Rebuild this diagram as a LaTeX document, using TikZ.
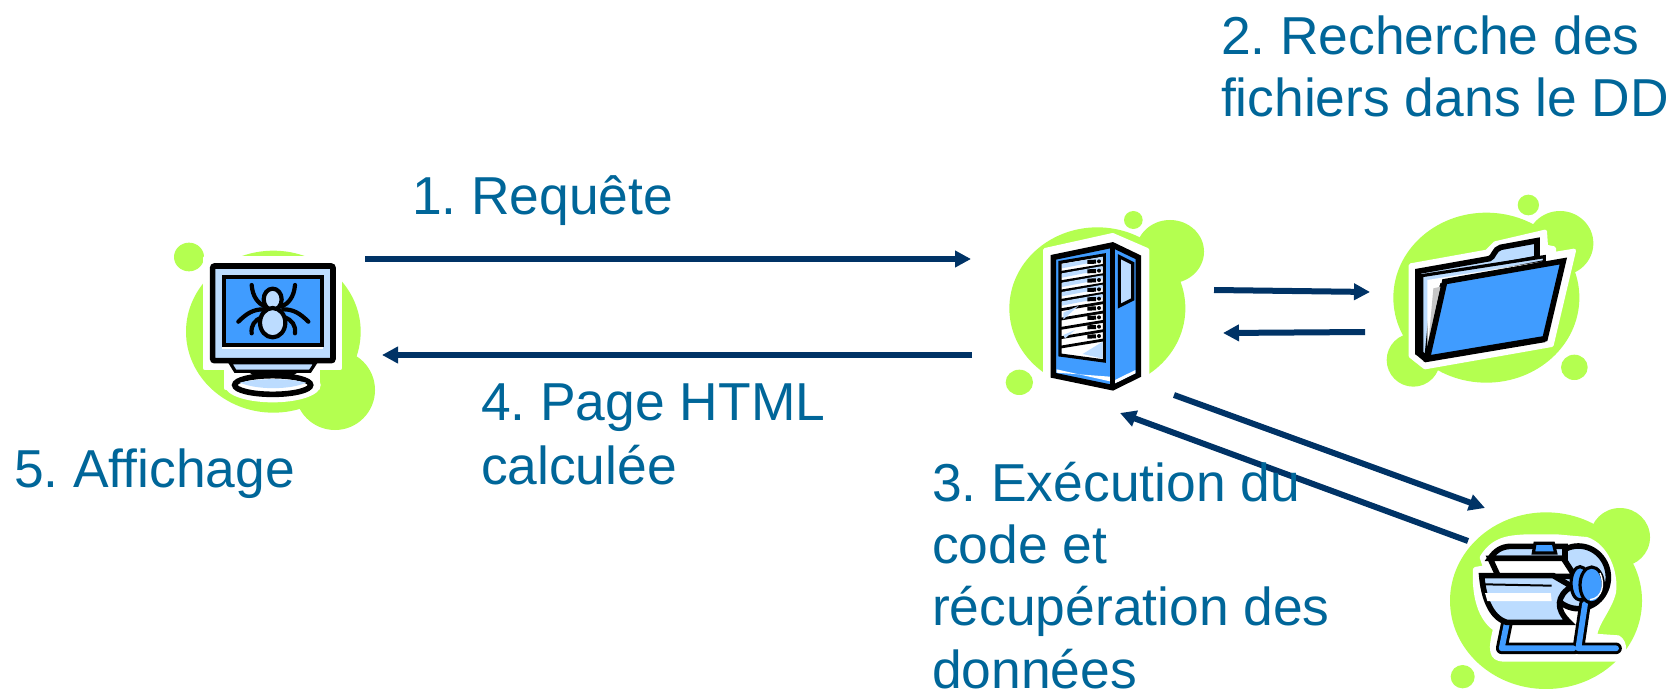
\documentclass[tikz,border=0pt]{standalone}
\usepackage{fontspec}
\setmainfont{Liberation Sans}
\usetikzlibrary{arrows.meta}
\definecolor{blobgreen}{HTML}{B4FF50}
\definecolor{iconblue}{HTML}{409CFF}
\definecolor{iconlight}{HTML}{BCDCFF}
\definecolor{navy}{HTML}{003366}
\definecolor{txtblue}{HTML}{006699}
\tikzset{
  blob/.style={fill=blobgreen,draw=none},
  halo/.style={fill=white,draw=white,line width=2pt,line join=round},
  ink/.style={draw=black,line width=2.8pt,line join=miter},
  thinink/.style={draw=black,line width=1.6pt,line join=miter},
  zoomed/.style={x=0.16667pt,y=-0.16667pt},
  link/.style={draw=navy,line width=3pt,-{Triangle[length=8pt,width=8pt]}},
  label/.style={anchor=base west,inner sep=0pt,outer sep=0pt,text=txtblue,font=\fontsize{26.7}{30}\selectfont,align=left}
}
\begin{document}
\frenchspacing
\begin{tikzpicture}[x=0.5pt,y=-0.5pt]
\useasboundingbox (0,0) rectangle (1673,689);
\fill[white] (0,0) rectangle (1673,689);

% ---------- client ----------
\begin{scope}[shift={(140,210)},zoomed]
\fill[blob] (147,141) ellipse [x radius=45,y radius=43];
\fill[blob] (400,365) ellipse [x radius=262,y radius=243];
\fill[blob] (585,540) circle [radius=120];
\path[halo] (195,145) rectangle (600,475);
\path[halo] (258,470) rectangle (535,535);
\path[halo] (398,525) ellipse [x radius=138,y radius=46];
\path[fill=iconlight,thinink] (270,458) -- (286,484) -- (510,484) -- (527,458) -- cycle;
\path[fill=iconlight,thinink] (340,490) .. controls (370,515) and (430,515) .. (460,490) -- cycle;
\path[fill=white,ink] (398,525) ellipse [x radius=114,y radius=28];
\path[fill=iconlight] (300,518) .. controls (350,504) and (450,504) .. (498,518) .. controls (450,540) and (350,540) .. (300,518);
\path[fill=iconlight,ink,rounded corners=1pt] (218,168) rectangle (579,452);
\path[fill=iconblue,thinink,line width=2pt] (252,202) rectangle (545,405);
\fill[white] (246,411) -- (550,411) -- (550,417) -- (246,417) -- cycle;
\begin{scope}[draw=black,line width=2.1pt,line cap=round]
\draw (335,225) .. controls (338,262) and (355,280) .. (375,290);
\draw (465,225) .. controls (462,262) and (445,280) .. (425,290);
\draw (295,335) .. controls (320,310) and (340,298) .. (370,298);
\draw (505,335) .. controls (480,310) and (460,298) .. (430,298);
\draw (335,370) .. controls (332,345) and (345,330) .. (365,322);
\draw (465,370) .. controls (468,345) and (455,330) .. (435,322);
\end{scope}
\path[fill=iconlight,draw=black,line width=2.1pt] (398,268) ellipse [x radius=27,y radius=32];
\path[fill=iconlight,draw=black,line width=2.1pt] (398,338) ellipse [x radius=38,y radius=44];
\end{scope}

% ---------- server ----------
\begin{scope}[shift={(1000,200)},zoomed]
\fill[blob] (292,325) ellipse [x radius=264,y radius=243];
\fill[blob] (510,155) ellipse [x radius=102,y radius=95];
\fill[blob] (400,60) ellipse [x radius=28,y radius=27];
\fill[blob] (58,547) ellipse [x radius=41,y radius=38];
\path[halo] (135,150) -- (338,105) -- (442,150) -- (442,530) -- (338,590) -- (135,545) -- cycle;
\path[fill=iconblue,ink] (160,172) -- (338,135) -- (415,172) -- (415,525) -- (338,563) -- (160,526) -- cycle;
\fill[white] (170,508) -- (330,544) -- (330,530) -- (170,518) -- cycle;
\fill[white] (345,550) -- (406,520) -- (406,510) -- (345,540) -- cycle;
\draw[black,line width=2.8pt] (338,135) -- (338,563);
\path[fill=white,thinink] (180,187) -- (313,165) -- (313,483) -- (180,465) -- cycle;
\fill[iconlight] (248,462) -- (308,425) -- (308,476) -- cycle;
\foreach \i in {0,...,8}{
  \pgfmathsetmacro\yl{192+28*\i}
  \pgfmathsetmacro\yr{170+28*\i}
  \ifnum\i<5
    \fill[iconlight] (186,\yl) -- (308,\yr) -- (308,\yr+11) -- (186,\yl+13) -- cycle;
  \fi
  \draw[black,line width=1.4pt] (183,\yl+25) -- (310,\yr+26);
  \draw[black,line width=2pt] (262,\yr+16) -- (288,\yr+15);
  \fill[black] (297,\yr+14) circle [radius=6];
}
\fill[iconlight] (190,338) -- (235,318) -- (190,358) -- cycle;
\fill[iconlight] (190,405) -- (225,390) -- (195,415) -- cycle;
\path[fill=iconlight,thinink] (358,170) -- (398,190) -- (398,298) -- (358,318) -- cycle;
\end{scope}

% ---------- folder ----------
\begin{scope}[shift={(1370,180)},zoomed]
\fill[blob] (349,353) ellipse [x radius=279,y radius=255];
\fill[blob] (570,190) ellipse [x radius=100,y radius=97];
\fill[blob] (475,75) ellipse [x radius=32,y radius=31];
\fill[blob] (613,562) ellipse [x radius=40,y radius=38];
\fill[blob] (130,540) ellipse [x radius=80,y radius=80];
\path[halo] (122,256) -- (350,215) -- (375,190) -- (525,155) -- (528,200) -- (552,205) -- (552,222) -- (612,212) -- (545,495) -- (165,562) -- (122,528) -- cycle;
\path[fill=iconlight,ink] (144,274) -- (358,236) .. controls (372,232) and (372,207) .. (392,202) -- (501,182) -- (501,235) -- (210,290) -- (170,530) -- (144,518) -- cycle;
\path[fill=iconlight,thinink] (155,287) -- (523,230) -- (523,245) -- (190,310) -- (168,530) -- (155,518) -- cycle;
\path[fill=white] (172,300) -- (515,245) -- (210,310) -- (172,520) -- cycle;
\fill[gray!45] (190,325) -- (212,320) -- (175,490) -- cycle;
\path[fill=iconblue,ink] (224,305) -- (580,243) -- (525,476) -- (172,535) -- cycle;
\draw[black,line width=2.8pt] (144,518) -- (168,538) -- (525,478);
\end{scope}

% ---------- database ----------
\begin{scope}[shift={(1440,489)},zoomed]
\fill[blob] (318,335) ellipse [x radius=288,y radius=265];
\fill[blob] (540,145) ellipse [x radius=90,y radius=88];
\fill[blob] (68,563) ellipse [x radius=36,y radius=35];
\path[halo] (125,205) .. controls (160,150) and (200,145) .. (260,142) -- (350,142) -- (440,150) .. controls (500,170) and (530,250) .. (522,310) .. controls (510,360) and (470,400) .. (465,440) -- (535,445) .. controls (560,460) and (560,510) .. (525,512) -- (190,512) .. controls (150,510) and (150,480) .. (165,420) .. controls (120,390) and (100,320) .. (105,240) -- (135,235) -- cycle;
% rear drum
\path[fill=iconlight,ink] (415,265) ellipse [x radius=90,y radius=94];
% lid
\path[fill=iconlight,ink] (150,208) .. controls (165,185) and (185,173) .. (210,172) -- (375,172) -- (375,208) -- cycle;
\path[fill=iconblue,thinink] (280,192) -- (285,163) -- (340,163) -- (347,192) -- cycle;
\path[fill=white,ink] (150,208) -- (370,208) -- (405,262) -- (175,262) -- cycle;
% frame
\fill[white] (220,400) -- (415,400) -- (405,462) -- (210,462) -- cycle;
\draw[black,line width=5.8pt,line cap=round,line join=round] (200,405) -- (185,478) -- (405,478);
\draw[black,line width=5.8pt,line cap=round,line join=round] (435,345) -- (415,478) -- (528,478);
\draw[iconblue,line width=2.9pt,line cap=round,line join=round] (200,405) -- (185,478) -- (400,478);
\draw[iconblue,line width=2.9pt,line cap=round,line join=round] (435,345) -- (415,478) -- (528,478);
% bowl
\path[fill=iconlight,ink] (125,260) -- (340,260) -- (395,292) .. controls (350,320) and (345,360) .. (388,400) -- (200,400) .. controls (150,385) and (130,320) .. (125,260) -- cycle;
\fill[white] (135,312) -- (332,312) -- (335,336) -- (142,336) -- cycle;
\draw[black,line width=1pt] (135,286) -- (335,290);
\path[fill=iconblue,thinink] (420,283) ellipse [x radius=27,y radius=50];
\path[fill=iconblue,thinink] (455,288) ellipse [x radius=35,y radius=54];
\draw[white,line width=0.7pt] (480,252) .. controls (495,285) and (488,328) .. (450,332);
\end{scope}

% ---------- connector ends ----------
\coordinate (reqA) at (365,259);
\coordinate (reqB) at (971,259);
\coordinate (pageA) at (972,355);
\coordinate (pageB) at (382,355);
\coordinate (fileA) at (1214,290);
\coordinate (fileB) at (1370,292);
\coordinate (backA) at (1365,332);
\coordinate (backB) at (1223,333);
\coordinate (dbA) at (1174,395);
\coordinate (dbB) at (1485,508);
\coordinate (dbretA) at (1468,541);
\coordinate (dbretB) at (1120,413);

\draw[link] (reqA) -- (reqB);
\draw[link] (pageA) -- (pageB);
\draw[link] (fileA) -- (fileB);
\draw[link] (backA) -- (backB);
\draw[link] (dbA) -- (dbB);
\draw[link] (dbretA) -- (dbretB);

% ---------- labels ----------
\node[label] (t1) at (412,215) {1. Requête};
\node[label] (t2a) at (1221,55) {2. Recherche des};
\node[label] (t2b) at (1221,117) {fichiers dans le DD};
\node[label] (t4a) at (481,420) {4. Page HTML};
\node[label] (t4b) at (481,484) {calculée};
\node[label] (t5) at (14,487) {5. Affichage};
\node[label] (t3a) at (932,501) {3. Exécution du};
\node[label] (t3b) at (932,563) {code et};
\node[label] (t3c) at (932,625) {récupération des};
\node[label] (t3d) at (932,688) {données};
\end{tikzpicture}
\end{document}
